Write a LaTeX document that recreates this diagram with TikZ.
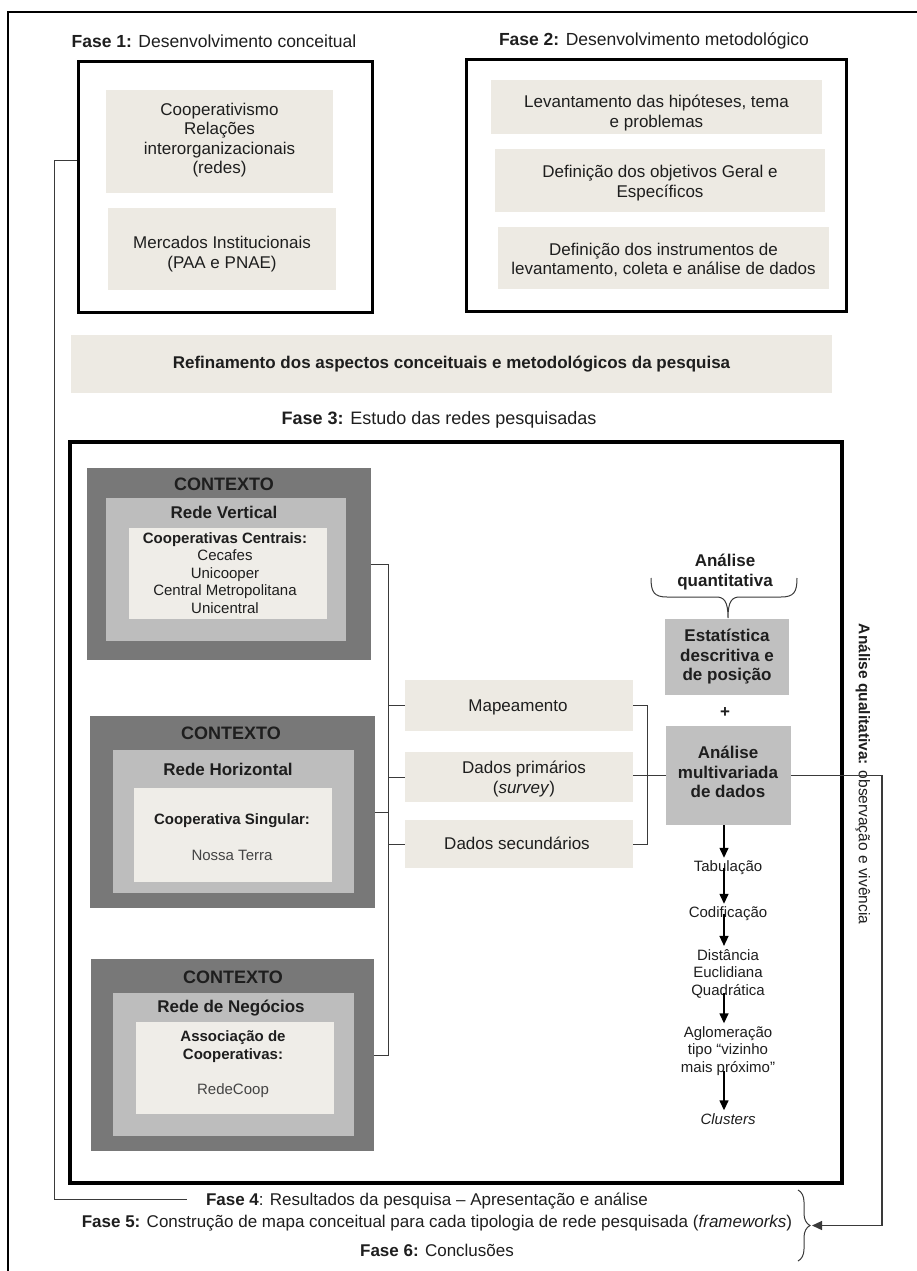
\documentclass[tikz,border=0pt]{standalone}
\usepackage{fontspec}
\setmainfont{Liberation Sans}
\usetikzlibrary{fit,calc,arrows.meta,decorations.pathreplacing}

\definecolor{beige}{HTML}{EDEAE3}
\definecolor{ctxdark}{HTML}{787878}
\definecolor{ctxmid}{HTML}{BDBDBD}
\definecolor{ctxin}{HTML}{EFEDE8}
\definecolor{statgray}{HTML}{C0C0C0}
\definecolor{wire}{HTML}{3A3A3A}
\definecolor{ink}{HTML}{1E1E1E}
\definecolor{softink}{HTML}{444444}

\newcommand{\fsz}[2]{\fontsize{#1}{#2}\selectfont}

\tikzset{
  lbl/.style={inner sep=0pt, text=ink, font=\fsz{17.5}{20}},
  txt/.style={inner sep=0pt, align=center, text=ink, font=\fsz{17}{19.3}},
  smalltxt/.style={inner sep=0pt, align=center, text=ink, font=\fsz{15}{17.4}},
  headtxt/.style={inner sep=0pt, align=center, text=ink, font=\bfseries\fsz{17}{19.5}},
  panel/.style={draw=black, line width=3pt, inner sep=0pt},
  cell/.style={fill=beige, inner sep=0pt},
  ctxouter/.style={fill=ctxdark, inner sep=0pt},
  ctxmiddle/.style={fill=ctxmid, inner sep=0pt},
  ctxinner/.style={fill=ctxin, inner sep=0pt},
  statbox/.style={fill=statgray, inner sep=0pt},
  wireline/.style={draw=wire, line width=1pt},
  flowtxt/.style={inner sep=3pt, align=center, text=ink, font=\fsz{15}{17.5}},
  flowarrow/.style={draw=black, line width=1.4pt, -{Triangle[length=10pt,width=9pt]}},
  bracestyle/.style={draw=wire, line width=1pt, decorate}
}

\begin{document}
\begin{tikzpicture}[x=1pt,y=-1pt]
\useasboundingbox (0,0) rectangle (917,1271);
\clip (0,0) rectangle (917,1271);

% outer frame
\draw[line width=2.5pt] (8,12) rectangle (940,1300);

% ---------- Phase 1 ----------
\node[lbl] (fase1) at (214,41) {\textbf{Fase 1:} Desenvolvimento conceitual};
\node[panel, fit={(78,62)(372,312)}] (f1) {};
\node[cell, fit={(106,90)(333,193)}] (coop) {};
\node[txt] (coopt) at (219.5,140) {Cooperativismo\\Relações\\interorganizacionais\\(redes)};
\node[cell, fit={(108,208)(336,290)}] (merc) {};
\node[txt] (merct) at (222,254) {Mercados Institucionais\\(PAA e PNAE)};

% ---------- Phase 2 ----------
\node[lbl] (fase2) at (654,41) {\textbf{Fase 2:} Desenvolvimento metodológico};
\node[panel, fit={(466,60)(846,311)}] (f2) {};
\node[cell, fit={(491,80)(822,134)}] (lev) {};
\node[txt] (levt) at (656.5,113) {Levantamento das hipóteses, tema\\e problemas};
\node[cell, fit={(495,149)(825,212)}] (obj) {};
\node[txt] (objt) at (660,183) {Definição dos objetivos Geral e\\Específicos};
\node[cell, fit={(498,227)(829,289)}] (inst) {};
\node[txt] (instt) at (663.5,260) {Definição dos instrumentos de\\levantamento, coleta e análise de dados};

\draw[wireline] ($(f1.north east)!0.48!(f1.south east)$) -- ($(f1.north east)!0.48!(f1.south east)$ -| f2.west);

% ---------- Refinement ----------
\node[cell, fit={(71,335)(832,393)}] (ref) {};
\node[inner sep=0pt, text=ink, font=\bfseries\fsz{17}{20}] (reft) at (ref.center)
  {Refinamento dos aspectos conceituais e metodológicos da pesquisa};

% ---------- Phase 3 ----------
\node[lbl, font=\fsz{18}{20}] (fase3) at (439,420) {\textbf{Fase 3:} Estudo das redes pesquisadas};
\node[panel, line width=3.3pt, fit={(70,442)(842,1183)}] (f3) {};

% context: vertical network
\node[ctxouter, fit={(87,468)(371,660)}] (c1) {};
\node[ctxmiddle, fit={(106,498)(346,641)}] (c1m) {};
\node[ctxinner, fit={(129,528)(327,619)}] (c1i) {};
\node[inner sep=0pt, text=ink, font=\bfseries\fsz{18}{20}] (c1a) at (224,484) {CONTEXTO};
\node[headtxt] (c1b) at (224,512) {Rede Vertical};
\node[smalltxt] (c1c) at (225,573) {\textbf{Cooperativas Centrais:}\\Cecafes\\Unicooper\\Central Metropolitana\\Unicentral};

% context: horizontal network
\node[ctxouter, fit={(90,716)(375,908)}] (c2) {};
\node[ctxmiddle, fit={(113,750)(354,893)}] (c2m) {};
\node[ctxinner, fit={(134,788)(332,882)}] (c2i) {};
\node[inner sep=0pt, text=ink, font=\bfseries\fsz{18}{20}] (c2a) at (231,733) {CONTEXTO};
\node[headtxt] (c2b) at (228,769) {Rede Horizontal};
\node[smalltxt] (c2c) at (232,837) {\textbf{Cooperativa Singular:}\\[18.6pt]\textcolor{softink}{Nossa Terra}};

% context: business network
\node[ctxouter, fit={(91,959)(374,1151)}] (c3) {};
\node[ctxmiddle, fit={(113,993)(354,1136)}] (c3m) {};
\node[ctxinner, fit={(136,1022)(334,1114)}] (c3i) {};
\node[inner sep=0pt, text=ink, font=\bfseries\fsz{18}{20}] (c3a) at (233,977) {CONTEXTO};
\node[headtxt] (c3b) at (231,1008) {Rede de Negócios};
\node[smalltxt] (c3c) at (233,1064) {\textbf{Associação de}\\\textbf{Cooperativas:}\\[17.6pt]\textcolor{softink}{RedeCoop}};

% data sources
\node[cell, fit={(405,680)(633,731)}] (map) {};
\node[txt] (mapt) at (518,707) {Mapeamento};
\node[cell, fit={(405,752)(633,802)}] (dp) {};
\node[txt] (dpt) at (524,779) {Dados primários\\(\textit{survey})};
\node[cell, fit={(405,820)(633,868)}] (ds) {};
\node[txt] (dst) at (517,843) {Dados secundários};

\coordinate (spine) at (388,0);
\draw[wireline] (c1.east) -- (c1.east -| spine) -- (c3.east -| spine) -- (c3.east);
\draw[wireline] (c2.east) -- (c2.east -| spine);
\draw[wireline] (map.west -| spine) -- (map.west);
\draw[wireline] (dp.west -| spine) -- (dp.west);
\draw[wireline] (ds.west -| spine) -- (ds.west);

\coordinate (rbar) at (647,0);
\draw[wireline] (map.east) -- (map.east -| rbar) -- (ds.east -| rbar) -- (ds.east);

% quantitative analysis
\node[headtxt] (quant) at (725,572) {Análise\\quantitativa};
\node[statbox, fit={(665,619)(789,695)}] (stat) {};
\node[headtxt] (statt) at (stat.center) {Estatística\\descritiva e\\de posição};
% brace over the statistics box
\coordinate (qbl) at (651,578);
\coordinate (qbr) at (797,578);
\coordinate (qtip) at (728,618);
\draw[wireline] (qbl) .. controls (651,592) and (654,597) .. (667,597)
  -- (716,597) .. controls (724,597) and (728,601) .. (qtip)
  .. controls (728,601) and (732,597) .. (740,597)
  -- (781,597) .. controls (794,597) and (797,592) .. (qbr);
\node[inner sep=0pt, text=ink, font=\bfseries\fsz{17}{19}] (plus) at (725,713) {+};
\node[statbox, fit={(666,726)(791,825)}] (mv) {};
\node[headtxt] (mvt) at (728,772) {Análise\\multivariada\\de dados};

\draw[wireline] (mv.west) -- (mv.west -| dp.east);

% processing steps
\node[flowtxt] (tab) at (728,868) {Tabulação};
\node[flowtxt] (cod) at (728,914) {Codificação};
\node[flowtxt] (dist) at (728,973.5) {Distância\\Euclidiana\\Quadrática};
\node[flowtxt] (agl) at (728,1051) {Aglomeração\\tipo “vizinho\\mais próximo”};
\node[flowtxt] (clu) at (728,1119) {\textit{Clusters}};

\coordinate (ax) at (724,0);
\draw[flowarrow] (mv.south -| ax) -- (tab.north -| ax);
\draw[flowarrow] (tab.center -| ax) -- (cod.north -| ax);
\draw[flowarrow] (cod.center -| ax) -- (dist.north -| ax);
\draw[flowarrow] ([yshift=8pt]dist.south -| ax) -- (agl.north -| ax);
\draw[flowarrow] ([yshift=8pt]agl.south -| ax) -- (clu.north -| ax);

% qualitative analysis
\node[rotate=-90, inner sep=0pt, text=ink, font=\fsz{15.5}{18}] (qual) at (863,774)
  {\textbf{Análise qualitativa:} observação e vivência};

% phases 4 to 6
\node[lbl, font=\fsz{17}{20}] (fase4) at (427,1201) {\textbf{Fase 4}: Resultados da pesquisa – Apresentação e análise};
\node[lbl, font=\fsz{17}{20}] (fase5) at (437,1223) {\textbf{Fase 5:} Construção de mapa conceitual para cada tipologia de rede pesquisada (\textit{frameworks})};
\node[lbl, font=\fsz{17}{20}] (fase6) at (437,1250) {\textbf{Fase 6:} Conclusões};

\coordinate (fbtop) at (798,1190);
\coordinate (fbbot) at (798,1261);
\draw[bracestyle, decoration={brace, amplitude=12pt}] (fbtop) -- (fbbot);
\coordinate (btip) at (812,1225.5);
\coordinate (qcorner) at (882,1225.5);

\draw[wireline, line width=1.2pt, -{Triangle[length=10pt,width=9pt]}] (mv.east) -| (qcorner) -- (btip);

% return line from phase 1 to phase 4
\coordinate (loop) at (54,1199);
\draw[wireline] ($(f1.north west)!0.396!(f1.south west)$) -| (loop) -- ([xshift=-19pt]fase4.west |- loop);
\end{tikzpicture}
\end{document}
